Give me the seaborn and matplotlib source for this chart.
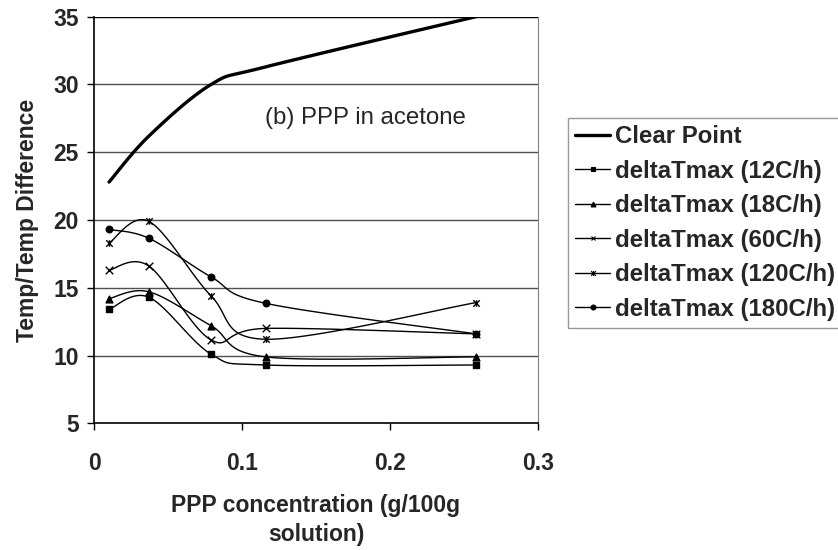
import numpy as np
import matplotlib
matplotlib.use("Agg")
import matplotlib.pyplot as plt
from matplotlib.lines import Line2D
from matplotlib.path import Path
import seaborn as sns

# data
conc = [0.01, 0.037, 0.079, 0.116, 0.258]
clear_point = [22.8, 26.2, 30.0, 31.3, 35.0]
dt_12 = [13.4, 14.3, 10.1, 9.3, 9.3]
dt_18 = [14.2, 14.7, 12.2, 9.9, 9.9]
dt_60 = [16.3, 16.6, 11.15, 12.0, 11.6]
dt_120 = [18.3, 19.9, 14.4, 11.2, 13.9]
dt_180 = [19.3, 18.65, 15.8, 13.85, 11.6]
labels = ["Clear Point", "deltaTmax (12C/h)", "deltaTmax (18C/h)", "deltaTmax (60C/h)",
          "deltaTmax (120C/h)", "deltaTmax (180C/h)"]

# asterisk marker (x with a vertical bar), like the spreadsheet "star"
star = Path([(-1, -1), (1, 1), (-1, 1), (1, -1), (0, -1), (0, 1)],
            [Path.MOVETO, Path.LINETO, Path.MOVETO, Path.LINETO, Path.MOVETO, Path.LINETO])


def smooth(x, y, n=30):
    """Spreadsheet-style smoothed line: cubic Bezier between points."""
    p = np.column_stack([x, y]).astype(float)
    pts = [p[0]]
    for i in range(len(p) - 1):
        p0 = p[i - 1] if i > 0 else p[i]
        p1, p2 = p[i], p[i + 1]
        p3 = p[i + 2] if i + 2 < len(p) else p[i + 1]
        c1 = p1 + (p2 - p0) / 6
        c2 = p2 - (p3 - p1) / 6
        t = np.linspace(0, 1, n)[1:, None]
        seg = ((1 - t) ** 3) * p1 + 3 * ((1 - t) ** 2) * t * c1 + 3 * (1 - t) * t ** 2 * c2 + t ** 3 * p2
        pts.extend(seg)
    pts = np.array(pts)
    return pts[:, 0], pts[:, 1]


sns.set_style("white")
plt.rcParams["font.family"] = ["Liberation Sans", "DejaVu Sans"]

fig = plt.figure(figsize=(8.38, 5.5), dpi=100)
ax = fig.add_axes([0.1125, 0.2304, 0.5292, 0.7392])

fs = 16.5

# clear point, thick
sx, sy = smooth(conc, clear_point)
sns.lineplot(x=sx, y=sy, sort=False, estimator=None, color="black", linewidth=2.4, ax=ax)

series = [
    (dt_12, "s", 18),
    (dt_18, "^", 24),
    (dt_60, "x", 30),
    (dt_120, star, 22),
    (dt_180, "o", 22),
]
for vals, mk, size in series:
    sx, sy = smooth(conc, vals)
    sns.lineplot(x=sx, y=sy, sort=False, estimator=None, color="black", linewidth=1, ax=ax)
    sns.scatterplot(x=conc, y=vals, marker=mk, s=size, color="black", edgecolor="black",
                    linewidth=1, ax=ax, zorder=4)

ax.set_xlim(0, 0.3)
ax.set_ylim(5, 35)
ax.set_xticks([0, 0.1, 0.2, 0.3])
ax.set_xticklabels(["0", "0.1", "0.2", "0.3"])
ax.set_yticks(range(5, 40, 5))
for v in range(10, 40, 5):
    ax.axhline(v, color="black" if v == 35 else "#505050", linewidth=1, zorder=1)

ax.spines["top"].set_visible(False)
ax.spines["right"].set_color("#808080")
ax.spines["left"].set_color("black")
ax.spines["bottom"].set_color("black")
ax.spines["left"].set_linewidth(1.2)
ax.spines["bottom"].set_linewidth(1.2)

ax.tick_params(axis="both", direction="out", length=5, width=1, color="black",
               labelsize=fs, pad=6, left=True, bottom=True)
for lab in ax.get_xticklabels() + ax.get_yticklabels():
    lab.set_fontweight("bold")
ax.tick_params(axis="x", pad=16)

ax.set_xlabel("PPP concentration (g/100g\nsolution)", fontsize=fs, fontweight="bold",
              labelpad=13, linespacing=1.35)
ax.set_ylabel("Temp/Temp Difference", fontsize=fs, fontweight="bold", labelpad=10)

ax.text(0.1155, 27.5, "(b) PPP in acetone", fontsize=17.3, va="center", ha="left")

handles = [Line2D([], [], color="black", linewidth=2.4)]
for vals, mk, size in series:
    handles.append(Line2D([], [], color="black", linewidth=1, marker=mk, markersize=3.5,
                          markerfacecolor="black", markeredgecolor="black", markeredgewidth=0.8))
leg = fig.legend(handles, labels, loc="upper left", bbox_to_anchor=(568 / 838, 1 - 118 / 550),
                 frameon=True, fancybox=False, shadow=False, borderaxespad=0,
                 prop={"size": 17.3, "weight": "bold"}, handlelength=1.45, handletextpad=0.2,
                 labelspacing=0.48, borderpad=0.3)
leg.get_frame().set_edgecolor("#808080")
leg.get_frame().set_linewidth(1)

fig.savefig("out.png", dpi=100)
